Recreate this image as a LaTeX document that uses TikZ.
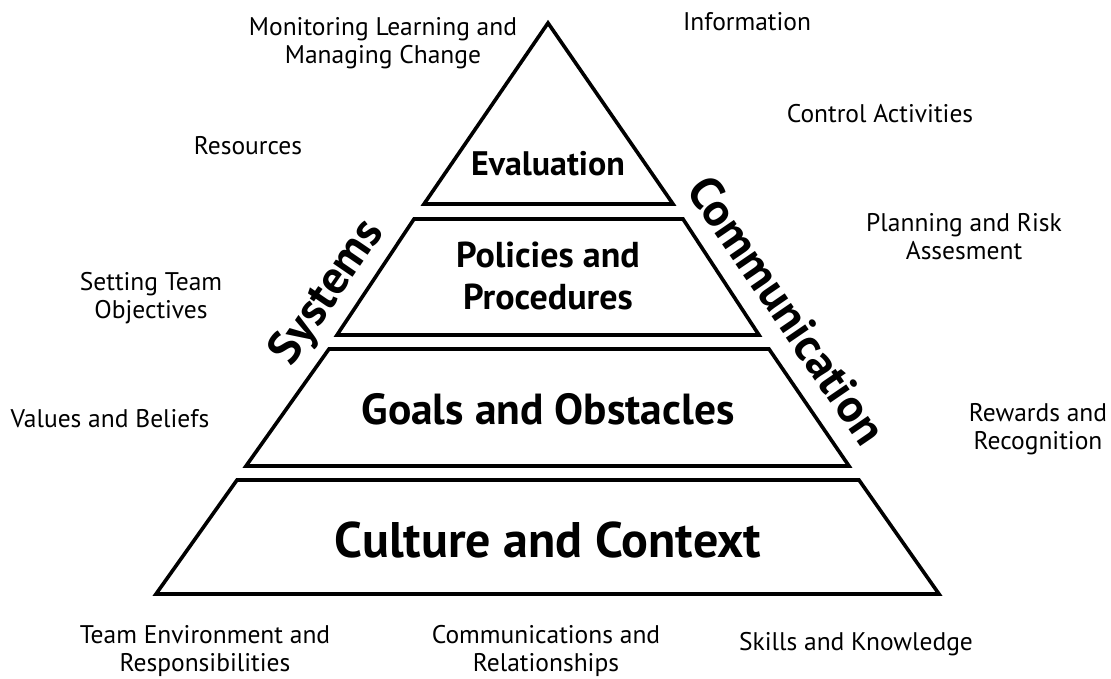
\documentclass[tikz,border=0pt]{standalone}
\usepackage{fontspec}
\setmainfont{PT Sans}
\begin{document}
\begin{tikzpicture}[x=1pt,y=-1pt,
  band/.style={draw=black,line width=3.6pt,line join=miter,fill=white},
  lbl/.style={font=\fontsize{25.5}{28}\selectfont,align=center,inner sep=0pt},
  side/.style={font=\bfseries\fontsize{47}{50}\selectfont,inner sep=0pt}]
\useasboundingbox (0,0) rectangle (1111,678);
% pyramid bands
\draw[band] (548,23) -- (673,204) -- (424,204) -- cycle;
\draw[band] (414,219) -- (683,219) -- (759,335) -- (337,335) -- cycle;
\draw[band] (329,349) -- (769,349) -- (849,466) -- (246,466) -- cycle;
\draw[band] (237,480) -- (859,480) -- (939,594) -- (156,594) -- cycle;
% band texts
\node[font=\bfseries\fontsize{34}{40}\selectfont,inner sep=0pt] (eval) at (548,164) {Evaluation};
\node[font=\bfseries\fontsize{36}{42}\selectfont,align=center,inner sep=0pt] (pol) at (548,276) {Policies and\\Procedures};
\node[font=\bfseries\fontsize{43.5}{48}\selectfont,inner sep=0pt] (goal) at (548,409) {Goals and Obstacles};
\node[font=\bfseries\fontsize{50}{55}\selectfont,inner sep=0pt] (cult) at (548,540) {Culture and Context};
% side texts
\node[side,rotate=55.6] (sys) at (328,293) {Systems};
\node[side,rotate=-55.6] (com) at (787,310) {Communication};
% labels
\node[lbl] (mon) at (383,43) {Monitoring Learning and\\Managing Change};
\node[lbl] (inf) at (747,22) {Information};
\node[lbl] (res) at (248,146) {Resources};
\node[lbl] (ctl) at (880,114) {Control Activities};
\node[lbl] (plan) at (964,237) {Planning and Risk\\Assesment};
\node[lbl] (set) at (151,298) {Setting Team\\Objectives};
\node[lbl] (val) at (110,419) {Values and Beliefs};
\node[lbl] (rew) at (1038,429) {Rewards and\\Recognition};
\node[lbl] (team) at (205,651) {Team Environment and\\Responsibilities};
\node[lbl] (comm) at (546,651) {Communications and\\Relationships};
\node[lbl] (skill) at (856,644) {Skills and Knowledge};
\end{tikzpicture}
\end{document}
